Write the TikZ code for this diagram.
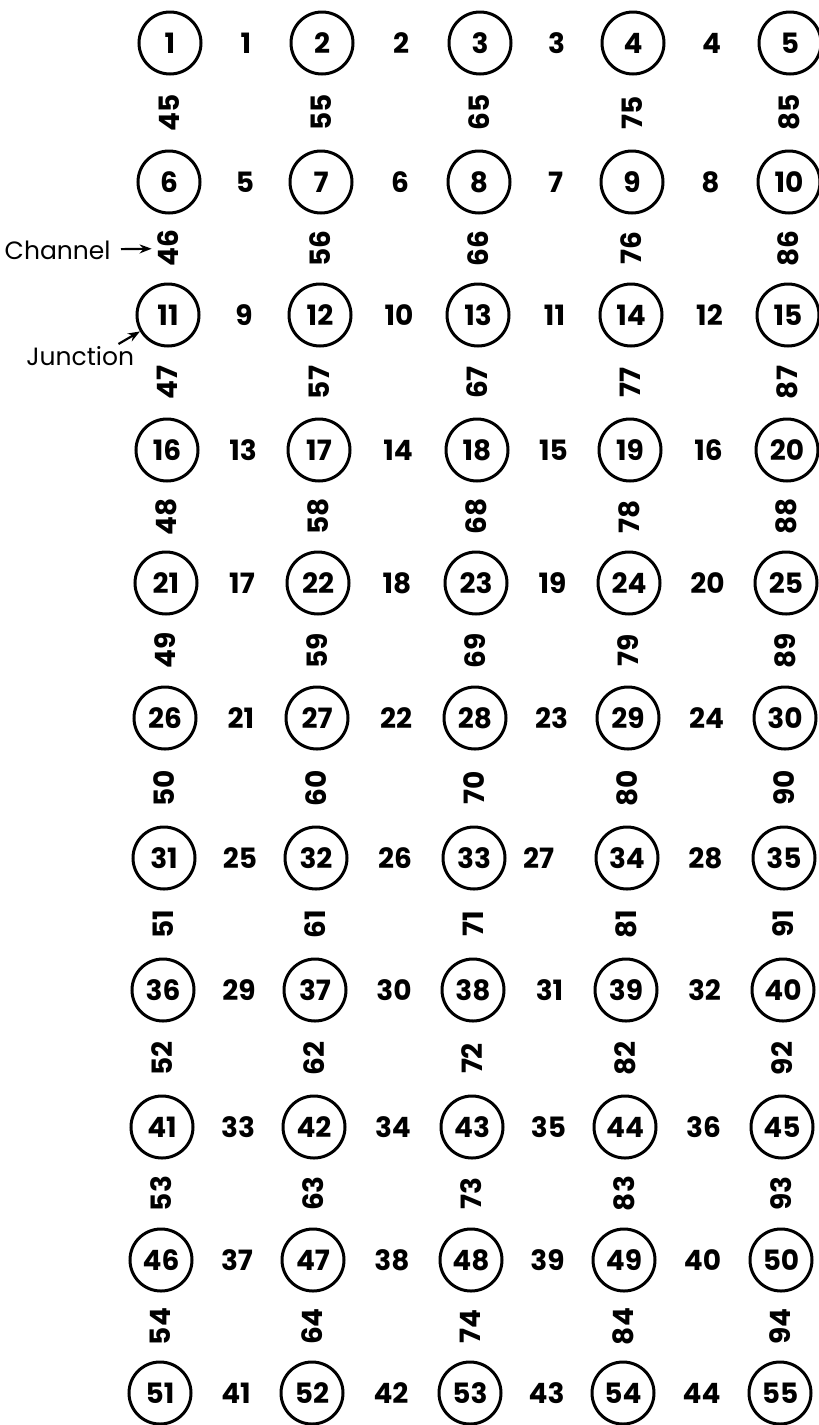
\documentclass[tikz,border=0pt]{standalone}
\usepackage{fontspec}
\setmainfont{Poppins}
\usetikzlibrary{calc,arrows.meta}
\begin{document}
\begin{tikzpicture}[x=0.5pt,y=-0.5pt,
  junction/.style={circle,draw,line width=1.5pt,minimum size=31pt,inner sep=0pt,
    font=\fontsize{14}{14}\selectfont\bfseries},
  chan/.style={inner sep=0pt,font=\fontsize{14}{14}\selectfont\bfseries},
  vchan/.style={chan,rotate=90},
  callout/.style={inner sep=1pt,font=\fontsize{12.5}{12.5}\selectfont},
  pointer/.style={-{Stealth[length=6pt,width=4.5pt]},line width=1.1pt}]
\useasboundingbox (0,0) rectangle (819,1425);
\def\xs{{170,322,480,633,790}}
\def\ys{{43,182,315,450,583,718,858,990,1127,1260,1393}}
% junctions
\foreach \r in {0,...,10}{
  \foreach \c in {0,...,4}{
    \pgfmathsetmacro\xx{\xs[\c]-\r}
    \pgfmathsetmacro\yy{\ys[\r]}
    \pgfmathtruncatemacro\n{5*\r+\c+1}
    \node[junction] (j\n) at (\xx,\yy) {\n};
  }
}
% horizontal channels
\foreach \r in {0,...,10}{
  \foreach \c in {0,...,3}{
    \pgfmathtruncatemacro\a{5*\r+\c+1}
    \pgfmathtruncatemacro\b{\a+1}
    \pgfmathtruncatemacro\k{4*\r+\c+1}
    \pgfmathsetmacro\dx{\k==27 ? -12 : 0}
    \node[chan] (c\k) at ($(j\a)!0.5!(j\b)+(\dx,0)$) {\k};
  }
}
% vertical channels
\foreach \r in {0,...,9}{
  \foreach \c in {0,...,4}{
    \pgfmathtruncatemacro\a{5*\r+\c+1}
    \pgfmathtruncatemacro\b{\a+5}
    \pgfmathtruncatemacro\k{45+10*\c+\r}
    \node[vchan] (c\k) at ($(j\a)!0.5!(j\b)$) {\k};
  }
}
% callouts
\node[callout,anchor=east] (chanlbl) at (113,250) {Channel};
\draw[pointer,shorten <=4pt,shorten >=3pt] (chanlbl) -- (c46);
\node[callout,anchor=west] (junclbl) at (24,356) {Junction};
\draw[pointer] ([xshift=-9pt]junclbl.north east) -- (j11);
\end{tikzpicture}
\end{document}
